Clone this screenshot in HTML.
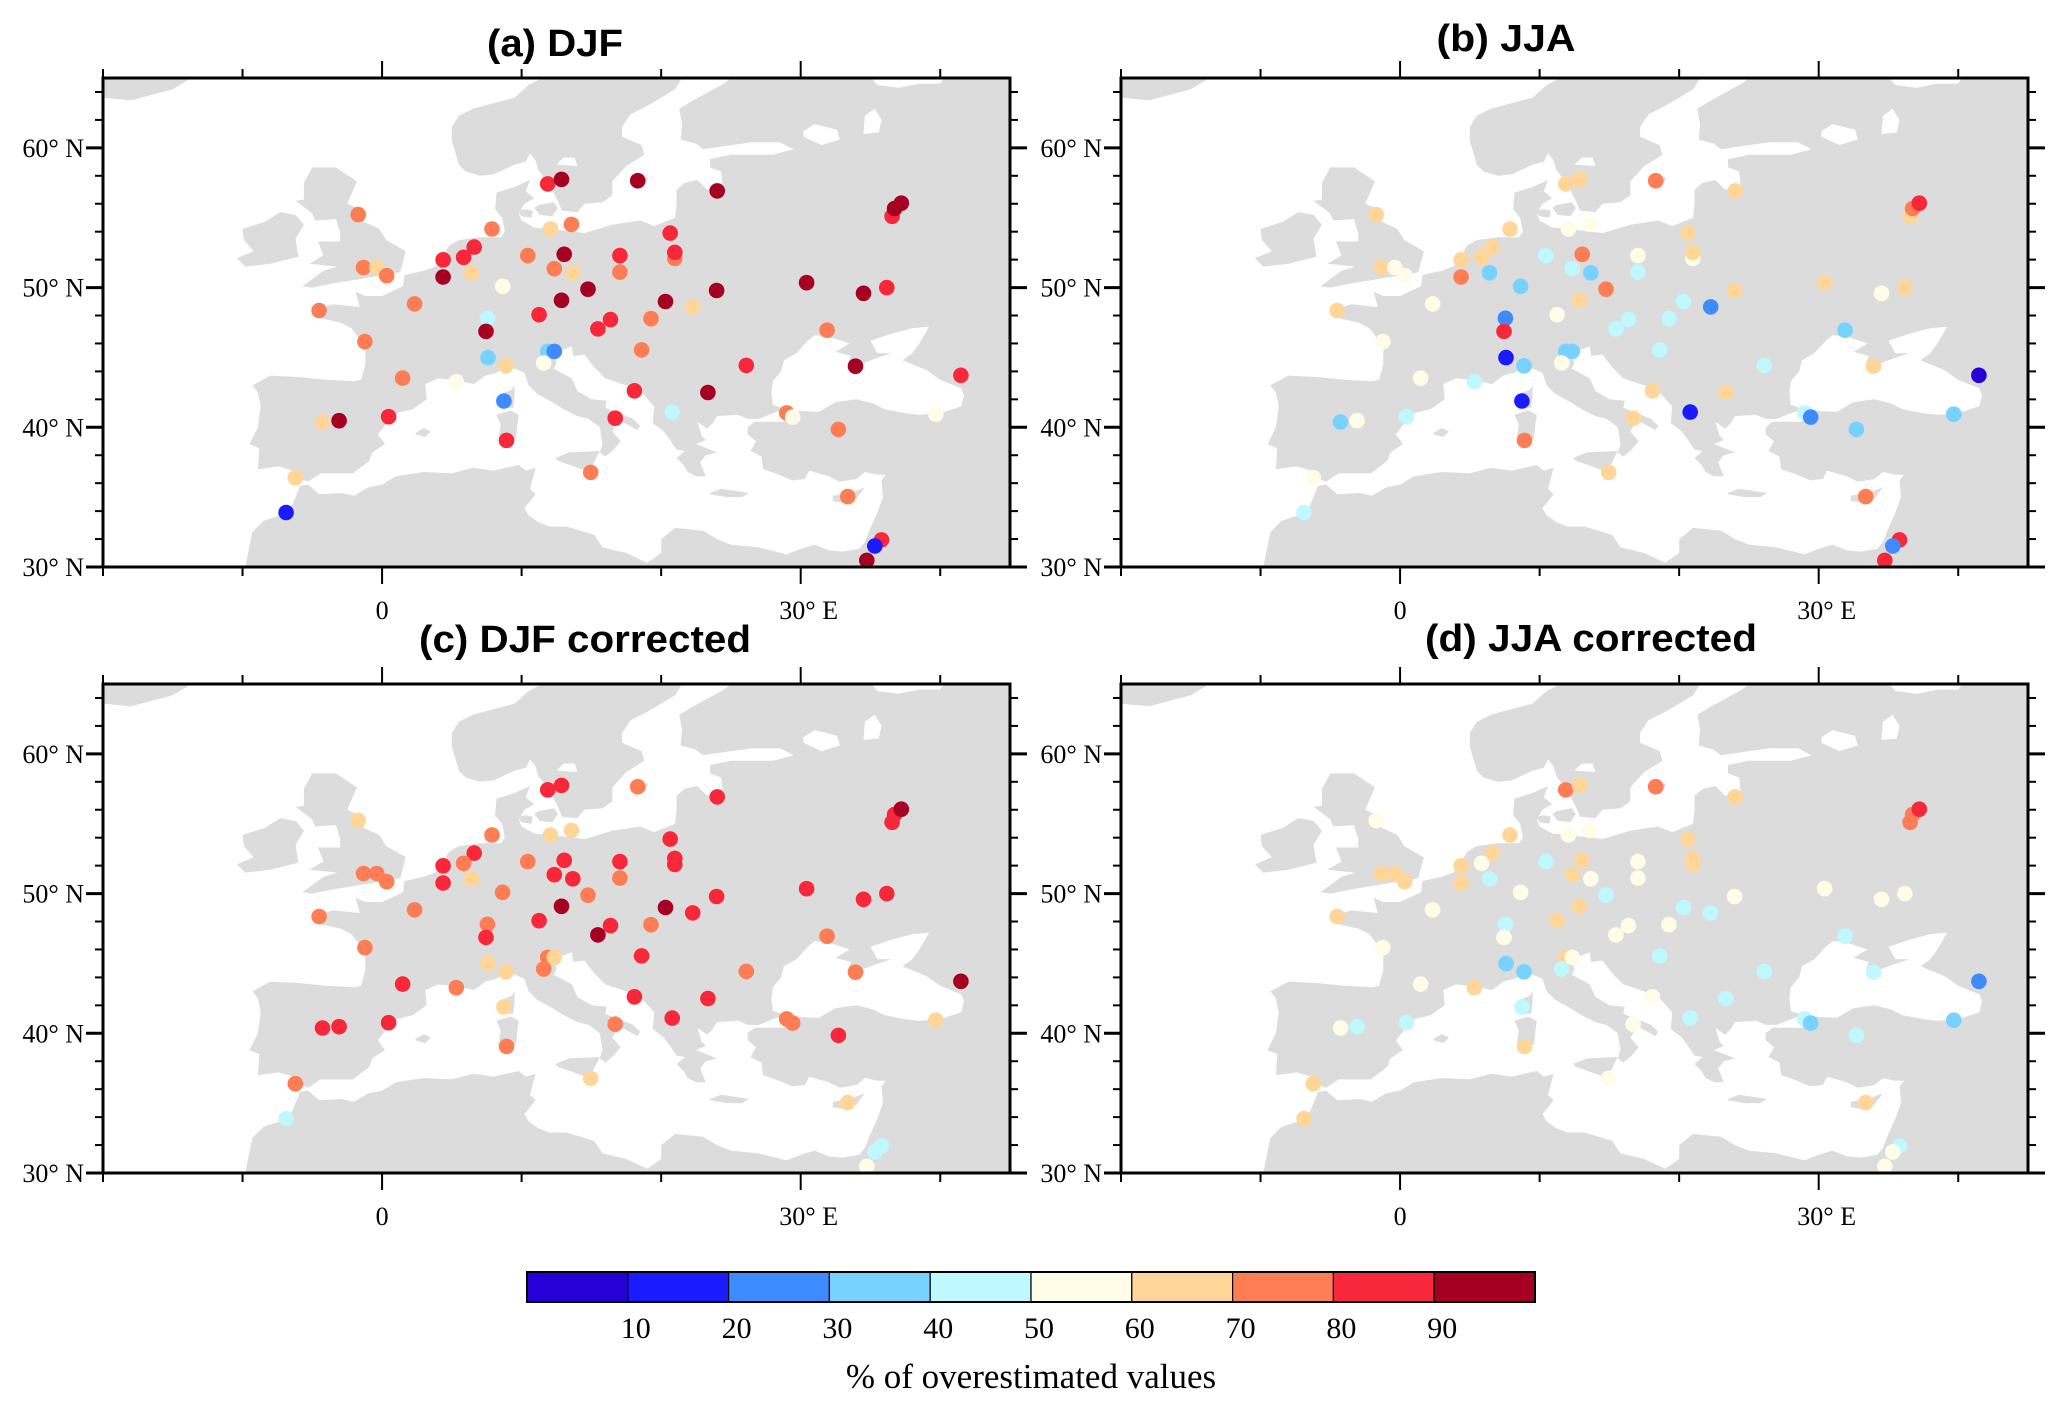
<!DOCTYPE html>
<html><head><meta charset="utf-8"><title>Overestimated values maps</title>
<style>
html,body{margin:0;padding:0;background:#fff;}
svg{display:block;}
.tick{font-family:"Liberation Serif",serif;font-size:26px;fill:#000;}
.ttl{font-family:"Liberation Sans",sans-serif;font-weight:bold;font-size:38px;fill:#000;}
</style></head>
<body>
<svg id="fig" width="2067" height="1405" viewBox="0 0 2067 1405" xmlns="http://www.w3.org/2000/svg"></svg>
<script>
// ---- station data (lon, lat) ----
const stationLon = [11.87,12.86,18.32,24.02,-1.71,36.55,36.73,37.21,7.88,12.06,13.57,20.65,6.60,5.84,4.37,10.44,13.05,17.04,20.98,20.98,-1.33,-0.38,0.33,4.37,6.41,12.34,13.67,17.04,8.64,14.76,12.86,30.42,34.50,36.17,23.97,20.31,22.26,-4.51,2.33,7.55,7.45,11.25,16.37,15.47,19.27,-1.23,31.89,7.59,8.88,11.87,12.34,11.58,18.60,26.10,33.93,41.48,1.47,5.32,8.73,18.08,23.35,20.79,29.00,29.43,39.68,-4.27,-3.08,0.47,16.71,8.92,32.70,-6.22,14.95,33.37,-6.88,35.79,35.31,34.74];
const stationLat = [57.42,57.74,57.65,56.92,55.22,55.10,55.66,56.04,54.19,54.19,54.52,53.90,52.90,52.17,51.99,52.29,52.38,52.29,52.08,52.52,51.44,51.44,50.85,50.76,51.06,51.35,51.06,51.11,50.09,49.88,49.09,50.35,49.59,50.00,49.79,49.00,48.62,48.36,48.83,47.80,46.86,48.06,47.71,47.04,47.77,46.13,46.95,44.99,44.40,45.43,45.43,44.60,45.54,44.43,44.37,43.72,43.52,43.26,41.88,42.61,42.49,41.09,41.03,40.73,40.94,40.38,40.47,40.76,40.65,39.06,39.85,36.39,36.77,35.04,33.90,31.94,31.50,30.47];
// ---- % of overestimated values per panel ----
const valuesDJF = [85,95,95,95,75,85,95,95,75,65,75,85,85,85,85,75,95,85,75,85,75,65,75,95,65,75,65,75,55,95,95,95,95,85,95,95,65,75,75,45,95,85,85,85,75,75,75,35,65,35,25,55,75,85,95,85,75,55,25,85,95,45,75,55,55,65,95,85,85,85,75,65,75,75,15,85,15,95];
const valuesJJA = [65,65,75,65,65,65,75,85,65,55,55,65,65,65,65,45,75,55,55,65,65,55,55,75,35,45,35,45,35,75,65,65,55,65,65,45,25,65,55,25,85,55,45,45,45,55,35,15,35,35,35,55,45,45,65,5,55,45,15,65,65,15,45,25,35,35,55,45,65,75,35,55,65,75,45,85,25,85];
const valuesDJFc = [85,85,75,85,65,85,85,95,75,65,65,85,85,75,85,75,85,85,85,85,75,75,75,85,65,85,85,75,75,75,95,85,85,85,85,95,85,75,75,75,85,85,85,95,75,75,75,65,65,75,65,75,85,75,75,95,85,75,65,85,85,85,75,75,65,85,85,85,75,75,85,75,65,65,45,45,45,55];
const valuesJJAc = [75,65,75,65,55,75,75,85,65,55,55,65,65,55,65,45,65,55,65,65,65,65,65,65,45,65,55,55,55,45,65,55,55,55,55,45,45,65,55,45,55,65,55,55,55,55,45,35,35,65,55,45,45,45,45,25,55,65,45,55,45,45,45,35,35,55,45,45,55,65,45,65,55,65,65,45,55,55];
const binColors = ["#2600d6","#1a1cff","#3d8bff","#78d2ff","#bff8ff","#fffde8","#ffd698","#ff7d55","#f8283a","#a50021"];
const cbarLabels = ["10","20","30","40","50","60","70","80","90"];
const latTicks = [30,40,50,60];
const lonMajor = [0,30];
const lonLabels = ["0","30° E"];

const NS="http://www.w3.org/2000/svg";
const svg=document.getElementById('fig');
function mk(tag,attrs,parent){const e=document.createElementNS(NS,tag);for(const k in attrs)e.setAttribute(k,attrs[k]);(parent||svg).appendChild(e);return e;}

const mainLand=[[-12,28],[-9.8,30],[-9.6,31],[-9.3,32.5],[-8.5,33.3],[-7,33.8],[-6.5,34.3],[-6,35.5],[-5.9,35.8],[-5.3,35.9],[-4.5,35.2],[-2.9,35.3],[-2,35.1],[-1,35.7],[0,35.9],[1,36.5],[3,36.8],[5,36.7],[6.5,37.1],[8,36.9],[9.8,37.3],[10.3,36.9],[11,37.1],[10.6,35.6],[11,35.2],[10.2,34.2],[10.5,33.7],[11.2,33.2],[12,32.9],[13.2,32.9],[15.2,32.3],[15.8,31.4],[17.5,31],[19,30.3],[20,31],[20,32],[21,32.8],[23,32.6],[24,32],[25,31.6],[27,31.4],[29,30.9],[30,31.3],[31,31.6],[32,31.2],[33,31.1],[34.2,31.3],[34.6,31.8],[35,32.8],[35.5,33.9],[35.9,35],[35.8,36.2],[36.1,36.6],[35.5,36.6],[34.6,36.8],[34,36.3],[32.8,36.1],[32,36.5],[30.6,36.9],[30.3,36.3],[29.4,36.2],[28.2,36.7],[27.3,37],[27.2,37.9],[26.4,38.3],[26.8,39],[26.2,39.5],[26.2,40],[26.7,40.4],[27.5,40.4],[28.8,40.4],[29,41],[29.2,41.2],[31.3,41.1],[32.5,41.8],[34,42],[35.2,41.7],[36,41.3],[37.5,41],[38.5,40.9],[40,41],[41.5,41.5],[41.7,42.3],[41.5,42.8],[40,43.4],[39,44.1],[38,44.5],[37.3,44.8],[38,45.3],[38.5,46],[39.2,47.2],[38,47.1],[36.5,46.7],[35,46.2],[35.5,45.3],[36.5,45.3],[35.3,44.9],[34,44.4],[33.4,44.6],[33.6,45.1],[32.5,45.4],[33.5,46],[32,46.5],[31,46.6],[30.5,46.2],[29.7,45.3],[28.8,44.8],[28.6,44],[28,43.3],[27.9,42.5],[28,41.6],[28.9,41.3],[28,41],[27,40.6],[26.2,40.6],[25.5,40.9],[24,40.8],[23.7,40.3],[23.3,39.9],[22.6,40.4],[22.9,39.4],[23.2,39.1],[22.5,38.8],[24,38.2],[23.2,38],[22.8,37.5],[23.2,36.5],[22.5,36.5],[21.9,36.8],[21.6,37.3],[21.1,37.8],[21.7,38.3],[21.1,38.4],[20.7,39],[20.2,39.7],[19.4,40.3],[19.5,41.5],[18.6,42.5],[17.5,43],[16,43.5],[15.2,44.3],[14.5,45.2],[13.7,45.1],[13.6,45.8],[12.3,45.3],[12.5,44.6],[12.3,44.2],[13.6,43.5],[14,42.6],[15,42],[16.1,41.9],[16,41.4],[18,40.6],[18.5,40.1],[18.3,39.8],[17,40.5],[16.5,39.7],[17.1,39],[16.6,38.4],[16,37.9],[15.6,38.2],[15.8,38.8],[15.6,40],[14.8,40.6],[14,40.8],[13,41.3],[12.2,41.8],[11.1,42.4],[10.5,43],[10.2,43.9],[9,44.4],[8.2,43.9],[7.4,43.7],[6.6,43.1],[5,43.4],[4,43.5],[3.1,43.1],[3.2,42],[2.2,41.3],[1,41],[0.5,40.5],[-0.3,39.5],[0.2,38.8],[-0.7,38.2],[-0.9,37.6],[-2.1,36.7],[-4.4,36.7],[-5.3,36.1],[-6.1,36.4],[-6.4,36.9],[-7.4,37.2],[-8.9,37],[-8.8,38.5],[-9.5,38.8],[-8.9,40],[-8.7,41.5],[-8.9,42.5],[-9.3,43],[-8,43.7],[-6,43.6],[-4,43.4],[-2,43.3],[-1.5,43.4],[-1.2,44.5],[-1.2,45.8],[-2.2,47.1],[-3,47.5],[-4.4,47.8],[-4.8,48.4],[-3.5,48.8],[-1.6,48.6],[-1.9,49.7],[-1.2,49.4],[0,49.4],[1.5,50.1],[1.6,50.9],[3,51.2],[3.8,51.5],[4.2,52],[4.8,53],[5.5,53.4],[7,53.6],[8.5,53.6],[8.8,54],[8.6,55],[8.1,55.6],[8.2,56.8],[9.5,57.2],[10.6,57.7],[10.3,56.9],[10.9,56.4],[10.2,56],[9.8,55.3],[10,54.8],[10.9,54.3],[12,54.2],[13.8,54],[14.5,53.9],[16.5,54.5],[18.5,54.8],[19.5,54.4],[21,55],[21.1,56],[21.1,57],[21.7,57.5],[22.6,57.7],[23.3,57],[24.4,57.2],[24.3,58.3],[23.5,58.6],[23.5,59.2],[25,59.5],[28,59.5],[29.5,59.9],[28.5,60.4],[26.5,60.4],[25,60.2],[23,59.9],[22.5,60.3],[21.4,60.6],[21.5,61.7],[21.3,62.8],[22.3,63.4],[24.5,64.6],[25.3,65.2],[25.3,66],[21.5,66],[21.5,65],[21,64.2],[20,63.6],[19,63],[17.8,62.4],[17.2,61.5],[17.2,60.8],[18.6,60.2],[18.8,59.5],[17.5,58.7],[16.5,57.6],[16.5,56.6],[15.8,56.1],[14.5,56],[14,55.4],[12.9,55.5],[12.6,56.2],[11.9,57.5],[11.2,58.4],[11,59.1],[10.6,59.6],[10.3,59],[9.5,58.8],[8,58.1],[7,58],[6,58.3],[5.5,58.8],[5.3,59.5],[5,60.5],[5,61.5],[5.5,62.3],[6.5,62.8],[8,63.2],[9.5,63.6],[10.5,64.5],[11.5,65],[12,66],[12,67],[50,67],[50,20],[-12,20]];
const islands=[
 [[-24,66],[-24,64],[-22,63.8],[-18,63.4],[-15,64.2],[-13.5,65.1],[-13.5,66]],
 [[-5,50],[-3.5,50.3],[-1,50.7],[1.3,51.1],[1.7,52.6],[0.3,53.4],[-0.2,54.2],[-1.3,54.7],[-1.6,55.6],[-2.5,56],[-1.8,57.6],[-3.3,58.6],[-5,58.6],[-5.6,57.5],[-5.6,56.3],[-6.2,56.2],[-5,55.3],[-4.8,54.8],[-3.3,54.9],[-3,53.9],[-3,53.3],[-4.6,53.3],[-4.2,52.3],[-5.2,51.7],[-3.2,51.5],[-4.2,51.2],[-5.7,50.1]],
 [[-6,52.2],[-6.2,53.5],[-5.6,54.5],[-6.2,55.2],[-7.3,55.4],[-8.4,54.7],[-10,54.2],[-9.9,53.4],[-9.2,52.6],[-10.4,52.1],[-9.8,51.5],[-8,51.7]],
 [[8.6,41.4],[9.4,41.4],[9.5,42.2],[9.5,43],[9.3,42.7],[8.6,42.4],[8.7,41.9]],
 [[8.4,39],[9,38.9],[9.6,39.2],[9.7,40.2],[9.8,40.9],[9.2,41.2],[8.2,40.9],[8.5,40.2],[8.4,39.5]],
 [[12.4,37.8],[13.4,38.2],[15.6,38.3],[15.1,37.3],[15.1,36.7],[14.3,37],[12.6,37.6]],
 [[23.5,35.3],[24.3,35.6],[26.3,35.3],[25.8,35],[24.7,35],[23.5,35.2]],
 [[32.3,34.7],[33,34.6],[34,34.9],[34.6,35.7],[33.5,35.3],[32.3,35.1]],
 [[2.4,39.5],[3.1,39.3],[3.5,39.7],[3,39.95],[2.4,39.6]],
 [[10.9,55.7],[11.3,55.2],[12.2,55.1],[12.6,55.7],[12.3,56.1],[11.2,55.9]],
 [[9.7,55.5],[10,55.1],[10.7,55],[10.8,55.5],[10.3,55.6]],
 [[18.1,57],[18.8,57.3],[19.1,57.9],[18.6,57.8]]
];
const lakes=[
 [[30.2,60.8],[31.5,60.2],[32.8,60.6],[32.6,61.3],[31,61.7],[30.2,61.2]],
 [[34.5,61],[35.6,61.1],[35.8,62],[35.3,62.8],[34.6,62.3]],
 [[34.6,65.5],[35.5,64.5],[37,64.3],[38.5,64.6],[40,64.6],[40.6,65.5]],
 [[12.5,58.8],[14,58.7],[13.8,59.3],[13,59.3]]
];

const panels=[
 {x:103,y:78,title:"(a) DJF",tx:555,ty:56,tl:136,vals:valuesDJF,name:"panel-a-djf"},
 {x:1121,y:78,title:"(b) JJA",tx:1506,ty:51,tl:139,vals:valuesJJA,name:"panel-b-jja"},
 {x:103,y:684,title:"(c) DJF corrected",tx:585,ty:652,tl:332,vals:valuesDJFc,name:"panel-c-djf-corrected"},
 {x:1121,y:684,title:"(d) JJA corrected",tx:1591,ty:651,tl:332,vals:valuesJJAc,name:"panel-d-jja-corrected"}
];
const W=907,H=489,LON0=-20,LON1=45,LAT0=30,LAT1=65;

panels.forEach((p,pi)=>{
  const X=lon=>p.x+(lon-LON0)/(LON1-LON0)*W;
  const Y=lat=>p.y+(LAT1-lat)/(LAT1-LAT0)*H;
  const g=mk('g',{});
  
  
  const cp=mk('clipPath',{id:'clip'+pi},g);
  mk('rect',{x:p.x,y:p.y,width:W,height:H},cp);
  const mapG=mk('g',{'clip-path':'url(#clip'+pi+')'},g);
  
  
  mk('rect',{x:p.x,y:p.y,width:W,height:H,fill:'#fff'},mapG);
  const toPts=poly=>poly.map(q=>X(q[0]).toFixed(1)+','+Y(q[1]).toFixed(1)).join(' ');
  const land=mk('polygon',{points:toPts(mainLand),fill:'#dcdcdc'},mapG);
  
  
  islands.forEach(is=>{const e=mk('polygon',{points:toPts(is),fill:'#dcdcdc'},mapG);
    
    });
  lakes.forEach(lk=>{const e=mk('polygon',{points:toPts(lk),fill:'#fff'},mapG);
    
    });
  for(let i=0;i<stationLon.length;i++){
    const v=p.vals[i];
    const bi=Math.max(0,Math.min(9,Math.floor(v/10)));
    const c=mk('circle',{cx:X(stationLon[i]).toFixed(1),cy:Y(stationLat[i]).toFixed(1),r:7.8,fill:binColors[bi]},mapG);
    
    
  }
  const fr=mk('rect',{x:p.x,y:p.y,width:W,height:H,fill:'none',stroke:'#000','stroke-width':3},g);
  
  
  for(let lat=30;lat<=64;lat+=2){
    const major=latTicks.includes(lat);const len=major?17:8;const y=Y(lat);
    mk('line',{x1:p.x-len,y1:y,x2:p.x,y2:y,stroke:'#000','stroke-width':major?3:2},g);
    mk('line',{x1:p.x+W,y1:y,x2:p.x+W+len,y2:y,stroke:'#000','stroke-width':major?3:2},g);
  }
  latTicks.forEach(lat=>{
    const t=mk('text',{x:p.x-19,y:Y(lat)+9,'text-anchor':'end',class:'tick'},g);
    t.textContent=lat+'° N';
    
    
  });
  for(let lon=-20;lon<=40;lon+=10){
    const major=lonMajor.includes(lon);const len=major?17:9;const x=X(lon);
    mk('line',{x1:x,y1:p.y-len,x2:x,y2:p.y,stroke:'#000','stroke-width':2},g);
    mk('line',{x1:x,y1:p.y+H,x2:x,y2:p.y+H+len,stroke:'#000','stroke-width':2},g);
  }
  lonMajor.forEach((lon,k)=>{
    const t=mk('text',{x:X(lon)+(k?8:0),y:p.y+H+52,'text-anchor':'middle',class:'tick'},g);
    t.textContent=lonLabels[k];
    
    
  });
  const tt=mk('text',{x:p.tx,y:p.ty,'text-anchor':'middle',class:'ttl',textLength:p.tl,lengthAdjust:'spacingAndGlyphs'},g);
  tt.textContent=p.title;
  
  
});

const cb=mk('g',{});


const CBX=527,CBY=1272,CBW=1008,CBH=30,cw=CBW/binColors.length;
binColors.forEach((c,i)=>{const r=mk('rect',{x:CBX+i*cw,y:CBY,width:cw,height:CBH,fill:c,stroke:'#000','stroke-width':1.2},cb);
  
  });
mk('rect',{x:CBX,y:CBY,width:CBW,height:CBH,fill:'none',stroke:'#000','stroke-width':2},cb);
cbarLabels.forEach((l,i)=>{const t=mk('text',{x:CBX+(i+1)*cw+8,y:CBY+66,'text-anchor':'middle',class:'tick',style:'font-size:30px'},cb);
  t.textContent=l;
  
  });
const cbt=mk('text',{x:1031,y:1388,'text-anchor':'middle',class:'tick',style:'font-size:35px'},cb);
cbt.textContent='% of overestimated values';


</script>
</body></html>
